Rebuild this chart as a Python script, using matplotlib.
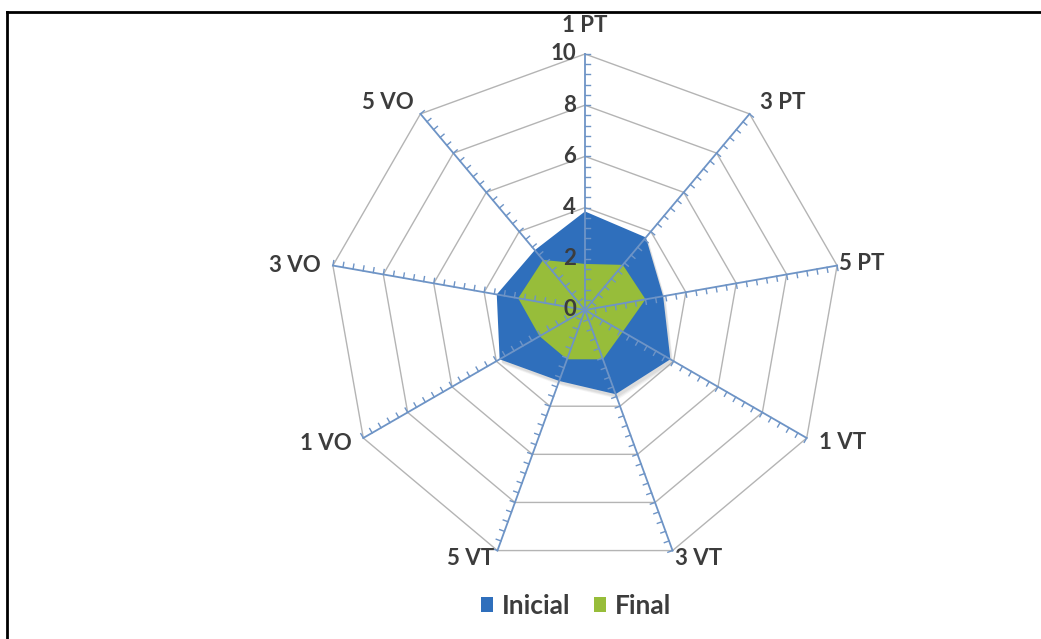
import numpy as np
import matplotlib
matplotlib.use("Agg")
import matplotlib.pyplot as plt
from matplotlib.patches import Patch
from matplotlib.lines import Line2D

# ---- data ----
categories = ["1 PT", "3 PT", "5 PT", "1 VT", "3 VT", "5 VT", "1 VO", "3 VO", "5 VO"]
inicial = [3.85, 3.7, 3.1, 3.85, 3.5, 2.95, 3.85, 3.5, 3.05]
final = [1.8, 2.3, 2.4, 1.7, 2.05, 2.05, 2.05, 2.65, 2.55]
value_ticks = [0, 2, 4, 6, 8, 10]
series_names = ["Inicial", "Final"]

# ---- styling ----
W, H, DPI = 1041, 639, 100
CX, CY = 585, 310          # centre in pixels (from top-left)
S = 25.6                   # pixels per value unit
TXT = "#3c3c3c"
BLUE = "#2f6fbc"
GREEN = "#97bd3a"
SPOKE = "#6e94c6"
GRID = "#b4b4b4"
FONT = ["Lato", "DejaVu Sans"]
# label offsets in pixels (dx, dy) from the outer vertex (dy positive = down)
label_off = [(0, -28), (33, -11), (25, -2), (36, 5), (26, 8), (-27, 8), (-37, 5), (-38, 0), (-33, -11)]

fig = plt.figure(figsize=(W / DPI, H / DPI), dpi=DPI)
ax = fig.add_axes([0, 0, 1, 1])
ax.set_xlim(-CX / S, (W - CX) / S)
ax.set_ylim(-(H - CY) / S, CY / S)
ax.set_aspect("equal")
ax.axis("off")

n = len(categories)
theta = np.arange(n) * 2 * np.pi / n
ux, uy = np.sin(theta), np.cos(theta)
rmax = value_ticks[-1]

def xy(vals):
    v = np.asarray(vals, dtype=float)
    x = v * ux
    y = v * uy
    return np.append(x, x[0]), np.append(y, y[0])

# grid polygons
for r in value_ticks[1:]:
    gx, gy = xy([r] * n)
    ax.plot(gx, gy, color=GRID, lw=1.0, zorder=1)

# shadow of Inicial
bx, by = xy(inicial)
for k, a in [(5, 0.08), (4, 0.1), (3, 0.12)]:
    ax.fill(bx + k * 0.6 / S, by - k / S, color="#808080", alpha=a, lw=0, zorder=2)
# series
ax.fill(bx, by, color=BLUE, lw=0, zorder=3)
gx, gy = xy(final)
ax.fill(gx, gy, color=GREEN, lw=0, zorder=4)

# spokes with tick marks
L = 5 / S
minor = np.arange(0.4, rmax + 0.001, 0.4)
for i in range(n):
    ax.plot([0, rmax * ux[i]], [0, rmax * uy[i]], color=SPOKE, lw=1.3, zorder=5)
    px, py = np.cos(theta[i]), -np.sin(theta[i])
    for r in minor:
        x0, y0 = r * ux[i], r * uy[i]
        ax.plot([x0, x0 + L * px], [y0, y0 + L * py], color=SPOKE, lw=1.0, zorder=5)

# category labels
for i, c in enumerate(categories):
    dx, dy = label_off[i]
    ax.text(rmax * ux[i] + dx / S, rmax * uy[i] - dy / S, c, ha="center", va="center",
            fontsize=16, fontweight="bold", color=TXT, family=FONT, zorder=6)

# value labels
for v in value_ticks:
    ax.text(-9 / S, v, str(v), ha="right", va="center", fontsize=16,
            fontweight="bold", color=TXT, family=FONT, zorder=6)

# legend
handles = [Patch(facecolor=BLUE, edgecolor="none"), Patch(facecolor=GREEN, edgecolor="none")]
fig.legend(handles, series_names, loc="center", bbox_to_anchor=(576 / W, 1 - 606 / H),
           ncol=2, frameon=False, handlelength=0.45, handleheight=0.5, handletextpad=0.35,
           columnspacing=0.9, prop={"family": FONT, "weight": "bold", "size": 19},
           labelcolor=TXT)

# frame lines (left and top)
fig.add_artist(Line2D([7 / W, 7 / W], [0, 1 - 12 / H], transform=fig.transFigure, color="black", lw=2))
fig.add_artist(Line2D([7 / W, 1], [1 - 12 / H, 1 - 12 / H], transform=fig.transFigure, color="black", lw=2))

fig.savefig("out.png", dpi=DPI, facecolor="white")
